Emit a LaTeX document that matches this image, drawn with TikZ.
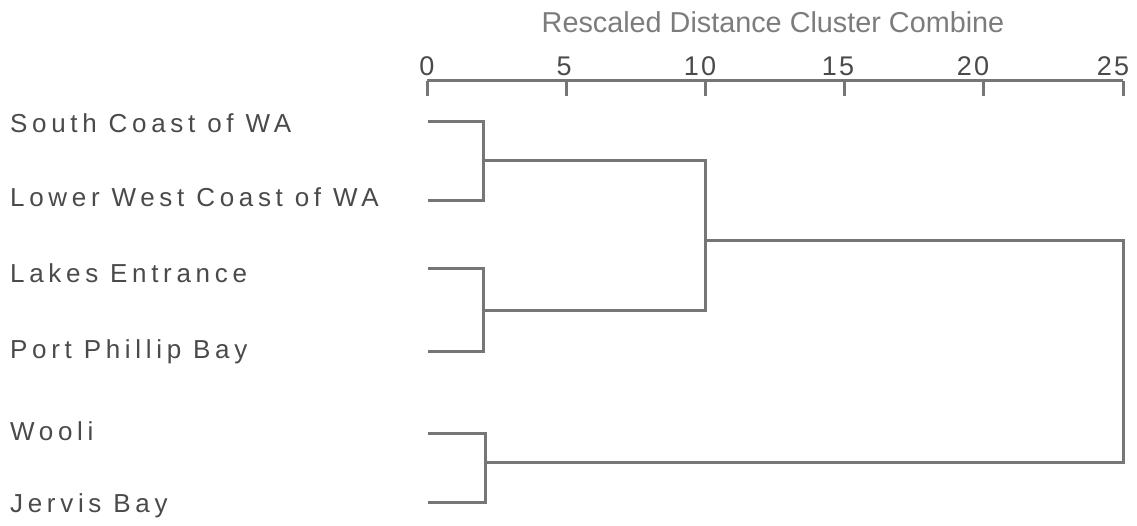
\documentclass[tikz,border=0pt]{standalone}
\usepackage{fontspec}
\setmainfont{Liberation Sans}
\definecolor{linegray}{HTML}{767676}
\definecolor{txtgray}{HTML}{4A4A4A}
\definecolor{titlegray}{HTML}{7C7C7C}
\begin{document}
\begin{tikzpicture}[x=1pt,y=-1pt,
  lbl/.style={anchor=base west, inner sep=0pt, text=txtgray,
    font=\fontsize{26}{30}\selectfont\addfontfeature{LetterSpace=18}},
  ticklbl/.style={anchor=base, inner sep=0pt, text=txtgray,
    font=\fontsize{27}{30}\selectfont\addfontfeature{LetterSpace=8}},
  titlelbl/.style={anchor=base, inner sep=0pt, text=titlegray,
    font=\fontsize{28.8}{32}\selectfont},
  dline/.style={draw=linegray, line width=3pt, line join=miter},
  axisline/.style={draw=linegray, line width=3pt}]
\useasboundingbox (0,0) rectangle (1137,526);

% title and axis
\node[titlelbl] (title) at (773,33) {Rescaled Distance Cluster Combine};
\coordinate (ax0) at (427,81);
\coordinate (ax25) at (1123,81);
\draw[axisline] (ax0) -- (ax25);
\foreach \v/\px/\lx in {0/427/427, 5/566/564, 10/705/700, 15/844/838, 20/983/973, 25/1123/1113} {
  \coordinate (t\v) at (\px,81);
  \coordinate (tb\v) at (\px,96);
  \draw[axisline] (t\v) -- (tb\v);
  \node[ticklbl] (n\v) at (\lx,76) {\v};
}

% leaf labels
\node[lbl] (s1) at (10,133) {South Coast of WA};
\node[lbl] (s2) at (10,207) {Lower West Coast of WA};
\node[lbl] (s3) at (10,283) {Lakes Entrance};
\node[lbl] (s4) at (10,358) {Port Phillip Bay};
\node[lbl] (s5) at (10,440) {Wooli};
\node[lbl] (s6) at (10,512) {Jervis Bay};

% leaf ends
\coordinate (l1) at (428,122);
\coordinate (l2) at (428,201);
\coordinate (l3) at (428,269);
\coordinate (l4) at (428,351);
\coordinate (l5) at (428,433);
\coordinate (l6) at (428,502);
% first-level joins
\coordinate (a1) at (483,122);
\coordinate (a2) at (483,201);
\coordinate (a3) at (483,269);
\coordinate (a4) at (483,351);
\coordinate (a5) at (485,433);
\coordinate (a6) at (485,502);
\coordinate (m1) at (483,161);
\coordinate (m2) at (483,311);
\coordinate (m4) at (485,462);
% second-level join
\coordinate (b1) at (705,161);
\coordinate (b2) at (705,311);
\coordinate (m3) at (705,241);
% top join
\coordinate (e1) at (1123,241);
\coordinate (e2) at (1123,462);

\draw[dline] (l1) -- (a1) -- (a2) -- (l2);
\draw[dline] (l3) -- (a3) -- (a4) -- (l4);
\draw[dline] (l5) -- (a5) -- (a6) -- (l6);
\draw[dline] (m1) -- (b1) -- (b2) -- (m2);
\draw[dline] (m3) -- (e1) -- (e2) -- (m4);
\end{tikzpicture}
\end{document}
